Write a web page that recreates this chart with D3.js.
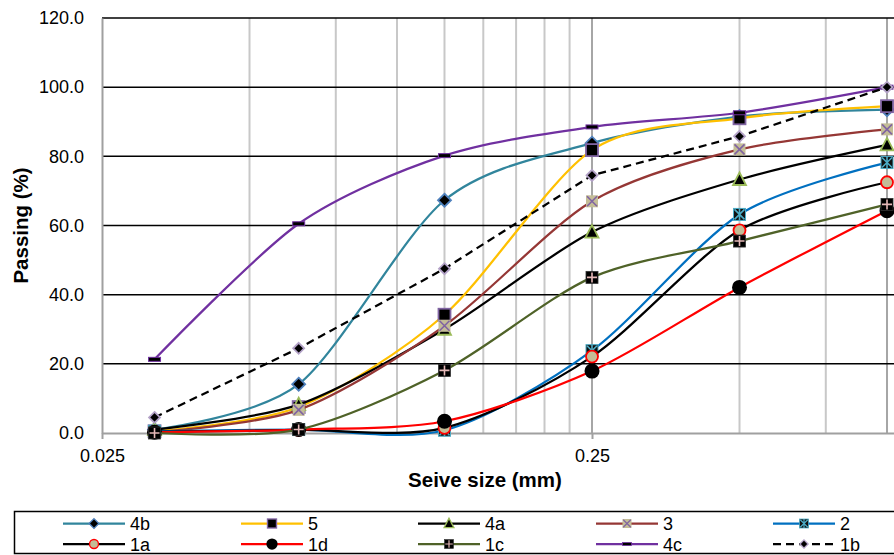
<!DOCTYPE html>
<html>
<head>
<meta charset="utf-8">
<script src="https://cdn.jsdelivr.net/npm/d3@7"></script>
<style>
  html, body { margin: 0; padding: 0; background: #fff; }
  svg { display: block; font-family: "Liberation Sans", Arial, sans-serif; }
</style>
</head>
<body>
<svg id="chart" width="894" height="555"></svg>
<script>
// ---- Data ----
const sieveSizes = [0.032, 0.063, 0.125, 0.25, 0.5, 1.0];
const seriesNames = ["4b", "5", "4a", "3", "2", "1a", "1d", "1c", "4c", "1b"];
const s4b = [1.0, 14.1, 67.3, 83.8, 91.5, 93.5];
const s5  = [0.5, 7.5, 34.2, 81.8, 91.0, 94.5];
const s4a = [1.0, 8.2, 30.0, 58.1, 73.3, 83.3];
const s3  = [0.3, 6.7, 31.0, 67.0, 82.0, 87.8];
const s2  = [0.5, 1.0, 0.8, 23.8, 63.2, 78.2];
const s1a = [0.3, 0.9, 1.5, 22.1, 58.6, 72.5];
const s1d = [0.2, 1.0, 3.4, 17.9, 42.1, 64.3];
const s1c = [0.0, 1.0, 18.1, 45.0, 55.5, 66.1];
const s4c = [21.3, 60.5, 80.2, 88.5, 92.6, 100.0];
const s1b = [4.5, 24.5, 47.5, 74.5, 85.8, 100.0];
const xTickValues = [0.025, 0.25];
const xTickLabels = ["0.025", "0.25"];
const yTickValues = [0, 20, 40, 60, 80, 100, 120];
const xTitle = "Seive size (mm)";
const yTitle = "Passing (%)";

// ---- Styles ----
const styles = {
  "4b": {color: "#31859C", marker: "diamond", dash: null, curve: true},
  "5":  {color: "#FFC000", marker: "square", dash: null, curve: true},
  "4a": {color: "#000000", marker: "triangle", dash: null, curve: true},
  "3":  {color: "#953735", marker: "xsq", dash: null, curve: true},
  "2":  {color: "#0070C0", marker: "star", dash: null, curve: true},
  "1a": {color: "#000000", marker: "circle", dash: null, curve: true},
  "1d": {color: "#FF0000", marker: "bigcircle", dash: null, curve: true},
  "1c": {color: "#4F6228", marker: "plus", dash: null, curve: true},
  "4c": {color: "#7030A0", marker: "dashm", dash: null, curve: true},
  "1b": {color: "#000000", marker: "sdiamond", dash: "8,5", curve: false}
};
const valuesByName = {"4b": s4b, "5": s5, "4a": s4a, "3": s3, "2": s2, "1a": s1a, "1d": s1d, "1c": s1c, "4c": s4c, "1b": s1b};

const svg = d3.select("#chart");
const pLeft = 102, pTop = 18, pBottom = 433;
const decade = 490;
const x = d3.scaleLog().domain([0.025, 2.5]).range([pLeft, pLeft + 2 * decade]);
const y = d3.scaleLinear().domain([0, 120]).range([pBottom, pTop]);

// minor vertical gridlines
const minorVals = [];
[0.025, 0.25].forEach(b => { for (let k = 2; k <= 9; k++) minorVals.push(b * k); });
const grid = svg.append("g");
grid.selectAll("line.vminor").data(minorVals).enter().append("line")
  .attr("x1", d => x(d)).attr("x2", d => x(d)).attr("y1", pTop).attr("y2", pBottom)
  .attr("stroke", d => (Math.abs(d - 1.0) < 1e-9) ? "#A6A6A6" : "#C8C8C8").attr("stroke-width", 2);
grid.selectAll("line.vmajor").data(xTickValues.slice(1)).enter().append("line")
  .attr("x1", d => x(d)).attr("x2", d => x(d)).attr("y1", pTop).attr("y2", pBottom)
  .attr("stroke", "#A6A6A6").attr("stroke-width", 2);
// horizontal gridlines
grid.selectAll("line.h").data(yTickValues.slice(1)).enter().append("line")
  .attr("x1", pLeft).attr("x2", 900).attr("y1", d => y(d)).attr("y2", d => y(d))
  .attr("stroke", "#000").attr("stroke-width", 1.5);

// axes
const yAxis = d3.axisLeft(y).tickValues(yTickValues).tickFormat(d3.format(".1f")).tickSize(0).tickPadding(18);
const gy = svg.append("g").attr("transform", `translate(${pLeft},0)`).call(yAxis);
gy.select(".domain").attr("stroke", "#A0A0A0").attr("stroke-width", 2);
gy.selectAll("text").attr("font-size", 18).attr("fill", "#000").attr("font-family", "Liberation Sans, Arial, sans-serif");

const xAxis = d3.axisBottom(x).tickValues(xTickValues).tickFormat((d, i) => xTickLabels[i]).tickSize(6).tickSizeOuter(0).tickPadding(10);
const gx = svg.append("g").attr("transform", `translate(0,${pBottom})`).call(xAxis);
gx.select(".domain").attr("stroke", "#A0A0A0").attr("stroke-width", 2);
gx.selectAll(".tick line").attr("stroke", "#A0A0A0").attr("stroke-width", 2);
gx.selectAll("text").attr("font-size", 18).attr("fill", "#000").attr("font-family", "Liberation Sans, Arial, sans-serif");

// titles
svg.append("text").attr("x", 485).attr("y", 487).attr("text-anchor", "middle")
  .attr("font-size", 20.5).attr("font-weight", "bold").text(xTitle);
svg.append("text").attr("transform", `translate(28,${(pTop + pBottom) / 2}) rotate(-90)`)
  .attr("text-anchor", "middle").attr("font-size", 20.5).attr("font-weight", "bold").text(yTitle);

// markers
function drawMarker(g, type, cx, cy, s) {
  const m = g.append("g").attr("transform", `translate(${cx},${cy}) scale(${s})`);
  switch (type) {
    case "diamond":
      m.append("path").attr("d", "M0,-6.5L6.5,0L0,6.5L-6.5,0Z").attr("fill", "#000").attr("stroke", "#4F81BD").attr("stroke-width", 1.8); break;
    case "square":
      m.append("rect").attr("x", -6).attr("y", -6).attr("width", 12).attr("height", 12).attr("fill", "#000").attr("stroke", "#8064A2").attr("stroke-width", 1.8); break;
    case "triangle":
      m.append("path").attr("d", "M0,-7L6.5,5.5L-6.5,5.5Z").attr("fill", "#000").attr("stroke", "#9BBB59").attr("stroke-width", 1.8); break;
    case "xsq":
      m.append("rect").attr("x", -6).attr("y", -6).attr("width", 12).attr("height", 12).attr("fill", "#C4BD97");
      m.append("path").attr("d", "M-5,-5L5,5M-5,5L5,-5").attr("stroke", "#8064A2").attr("stroke-width", 1.6); break;
    case "star":
      m.append("rect").attr("x", -6).attr("y", -6).attr("width", 12).attr("height", 12).attr("fill", "#111").attr("stroke", "#4BACC6").attr("stroke-width", 1);
      m.append("path").attr("d", "M-5,-5L5,5M-5,5L5,-5M0,-6L0,6").attr("stroke", "#4BACC6").attr("stroke-width", 1.6); break;
    case "circle":
      m.append("circle").attr("r", 6).attr("fill", "#C4BD97").attr("stroke", "#FF0000").attr("stroke-width", 1.8); break;
    case "bigcircle":
      m.append("circle").attr("r", 7.5).attr("fill", "#000"); break;
    case "plus":
      m.append("rect").attr("x", -6).attr("y", -6).attr("width", 12).attr("height", 12).attr("fill", "#000").attr("stroke", "#333").attr("stroke-width", 0.8);
      m.append("path").attr("d", "M-5,0L5,0M0,-5L0,5").attr("stroke", "#E6B9B8").attr("stroke-width", 1.6); break;
    case "dashm":
      m.append("rect").attr("x", -6).attr("y", -2).attr("width", 12).attr("height", 4).attr("fill", "#000").attr("stroke", "#7030A0").attr("stroke-width", 1); break;
    case "sdiamond":
      m.append("path").attr("d", "M0,-5.5L5.5,0L0,5.5L-5.5,0Z").attr("fill", "#000").attr("stroke", "#B3A2C7").attr("stroke-width", 1.8); break;
  }
}

// series
const plot = svg.append("g");
seriesNames.forEach(name => {
  const st = styles[name];
  const vals = valuesByName[name];
  const pts = sieveSizes.map((s, i) => [x(s), y(vals[i])]);
  const line = d3.line().curve(st.curve ? d3.curveCardinal.tension(0.15) : d3.curveLinear);
  const sg = plot.append("g");
  sg.append("path").attr("d", line(pts)).attr("fill", "none").attr("stroke", st.color)
    .attr("stroke-width", 2.25).attr("stroke-dasharray", st.dash);
  pts.forEach(p => drawMarker(sg, st.marker, p[0], p[1], 1));
});

// legend
const lg = svg.append("g");
lg.append("rect").attr("x", 14.5).attr("y", 511.5).attr("width", 900).attr("height", 42)
  .attr("fill", "#fff").attr("stroke", "#000").attr("stroke-width", 1.5);
const colX = [63, 241, 418, 596, 773];
const rowY = [523.5, 544];
seriesNames.forEach((name, i) => {
  const st = styles[name];
  const cx0 = colX[i % 5], cy = rowY[Math.floor(i / 5)];
  lg.append("line").attr("x1", cx0).attr("x2", cx0 + 62).attr("y1", cy).attr("y2", cy)
    .attr("stroke", st.color).attr("stroke-width", 2.25).attr("stroke-dasharray", st.dash);
  drawMarker(lg, st.marker, cx0 + 31, cy, 0.75);
  lg.append("text").attr("x", cx0 + 67).attr("y", cy + 6.5).attr("font-size", 18).text(name);
});
</script>
</body>
</html>
